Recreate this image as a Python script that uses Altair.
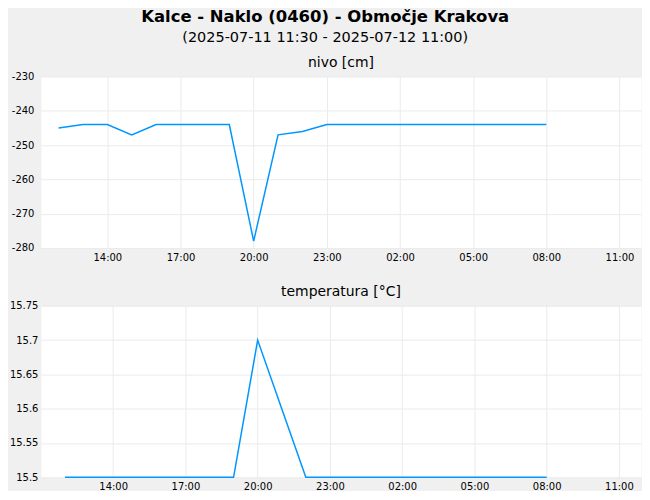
import altair as alt
import pandas as pd

# --- data ---
times = [
    "2025-07-11T12:00Z", "2025-07-11T13:00Z", "2025-07-11T14:00Z", "2025-07-11T15:00Z",
    "2025-07-11T16:00Z", "2025-07-11T17:00Z", "2025-07-11T18:00Z", "2025-07-11T19:00Z",
    "2025-07-11T20:00Z", "2025-07-11T21:00Z", "2025-07-11T22:00Z", "2025-07-11T23:00Z",
    "2025-07-12T00:00Z", "2025-07-12T01:00Z", "2025-07-12T02:00Z", "2025-07-12T03:00Z",
    "2025-07-12T04:00Z", "2025-07-12T05:00Z", "2025-07-12T06:00Z", "2025-07-12T07:00Z",
    "2025-07-12T08:00Z",
]
nivo = [-245, -244, -244, -247, -244, -244, -244, -244, -278, -247, -246,
        -244, -244, -244, -244, -244, -244, -244, -244, -244, -244]
temperatura = [15.5, 15.5, 15.5, 15.5, 15.5, 15.5, 15.5, 15.5, 15.7, 15.6, 15.5,
               15.5, 15.5, 15.5, 15.5, 15.5, 15.5, 15.5, 15.5, 15.5, 15.5]

# visible time windows of the two panels
x_domain_top = ["2025-07-11T11:16:30Z", "2025-07-12T11:53:00Z"]
x_domain_bottom = ["2025-07-11T11:00:00Z", "2025-07-12T11:55:00Z"]
x_ticks = ["2025-07-11T14:00Z", "2025-07-11T17:00Z", "2025-07-11T20:00Z", "2025-07-11T23:00Z",
           "2025-07-12T02:00Z", "2025-07-12T05:00Z", "2025-07-12T08:00Z", "2025-07-12T11:00Z"]
nivo_ticks = [-280, -270, -260, -250, -240, -230]
temp_ticks = [15.5, 15.55, 15.6, 15.65, 15.7, 15.75]

title_text = "Kalce - Naklo (0460) - Območje Krakova"
subtitle_text = "(2025-07-11 11:30 - 2025-07-12 11:00)"


def ms(s):
    return int(pd.Timestamp(s).value // 10**6)


df = pd.DataFrame({"t": times, "nivo": nivo, "temperatura": temperatura})

FONT = "DejaVu Sans"
LINE = "#0096ff"
GRID = "#ebebeb"


def x_enc(domain, pad):
    return alt.X(
        "t:T",
        scale=alt.Scale(type="utc", domain=[ms(d) for d in domain], nice=False),
        axis=alt.Axis(
            title=None, values=[ms(v) for v in x_ticks],
            labelExpr="utcFormat(datum.value, '%H:%M')",
            grid=True, gridColor=GRID, ticks=False, domain=False, labelPadding=pad,
            labelFontSize=10, labelFont=FONT, labelColor="#000", labelOverlap=False,
        ),
    )


top = alt.Chart(df).mark_line(color=LINE, strokeWidth=1.5, clip=False).encode(
    x=x_enc(x_domain_top, 5),
    y=alt.Y(
        "nivo:Q",
        scale=alt.Scale(domain=[-280, -230], nice=False, zero=False),
        axis=alt.Axis(
            title=None, values=nivo_ticks, labelExpr="'' + datum.value",
            grid=True, gridColor=GRID, ticks=False, domain=False,
            labelPadding=7, labelFontSize=10, labelFont=FONT, labelColor="#000",
        ),
    ),
).properties(
    width=602, height=172,
    title=alt.TitleParams("nivo [cm]", fontSize=14, fontWeight="normal", font=FONT,
                          color="#000", anchor="middle", offset=2),
)

bottom = alt.Chart(df).mark_line(color=LINE, strokeWidth=1.5, clip=False).encode(
    x=x_enc(x_domain_bottom, 4),
    y=alt.Y(
        "temperatura:Q",
        scale=alt.Scale(domain=[15.5, 15.75], nice=False, zero=False),
        axis=alt.Axis(
            title=None, values=temp_ticks, format=".2~f", grid=True, gridColor=GRID,
            ticks=False, domain=False, labelPadding=3,
            labelFontSize=10, labelFont=FONT, labelColor="#000",
        ),
    ),
).properties(
    width=602, height=172,
    title=alt.TitleParams("temperatura [°C]", fontSize=14, fontWeight="normal", font=FONT,
                          color="#000", anchor="middle", offset=2),
)

chart = alt.vconcat(top, bottom, spacing=20).properties(
    title=alt.TitleParams(
        text=title_text, subtitle=subtitle_text, font=FONT, fontSize=16.5, fontWeight="bold",
        color="#000", subtitleFont=FONT, subtitleFontSize=14.5, subtitleColor="#000",
        subtitlePadding=5, anchor="middle", offset=11,
    ),
    background="#f0f0f0",
    padding={"left": 0, "top": 0, "right": 0, "bottom": -2},
).configure_view(stroke="transparent", fill="white")

chart.save("out.html", embed_options={"renderer": "svg", "actions": False})
